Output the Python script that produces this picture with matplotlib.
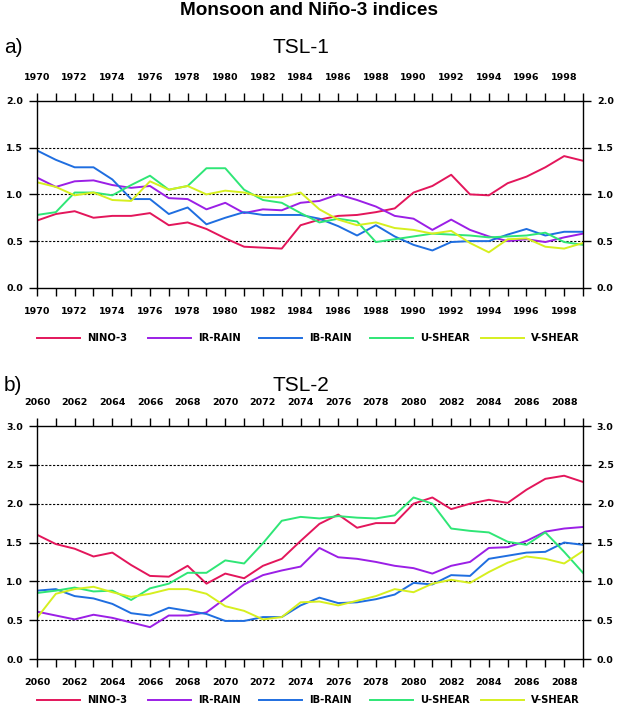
import matplotlib
matplotlib.use("Agg")
import matplotlib.pyplot as plt
from matplotlib.lines import Line2D
from matplotlib.ticker import MultipleLocator

# series names and colours
names = ["NINO-3", "IR-RAIN", "IB-RAIN", "U-SHEAR", "V-SHEAR"]
colors = ["#e3165b", "#9b1fe6", "#1f6ee0", "#2fe676", "#d6ef1f"]

# TSL-1 (1970-1999)
years1 = list(range(1970, 2000))
nino1 = [0.72, 0.79, 0.82, 0.75, 0.77, 0.77, 0.80, 0.67, 0.70, 0.63,
         0.53, 0.44, 0.43, 0.42, 0.67, 0.73, 0.77, 0.78, 0.81, 0.85,
         1.02, 1.09, 1.21, 1.00, 0.99, 1.12, 1.19, 1.29, 1.41, 1.36]
irrain1 = [1.18, 1.08, 1.14, 1.15, 1.10, 1.07, 1.09, 0.96, 0.95, 0.84,
           0.91, 0.80, 0.84, 0.83, 0.91, 0.93, 1.00, 0.94, 0.87, 0.77,
           0.74, 0.62, 0.73, 0.62, 0.55, 0.50, 0.52, 0.49, 0.54, 0.58]
ibrain1 = [1.47, 1.37, 1.29, 1.29, 1.16, 0.95, 0.95, 0.79, 0.86, 0.68,
           0.75, 0.81, 0.78, 0.78, 0.78, 0.74, 0.66, 0.56, 0.67, 0.55,
           0.46, 0.40, 0.49, 0.50, 0.50, 0.57, 0.63, 0.56, 0.60, 0.60]
ushear1 = [0.78, 0.81, 1.02, 1.02, 0.99, 1.10, 1.20, 1.05, 1.09, 1.28,
           1.28, 1.05, 0.94, 0.91, 0.80, 0.70, 0.74, 0.71, 0.49, 0.52,
           0.55, 0.58, 0.57, 0.56, 0.54, 0.55, 0.56, 0.59, 0.49, 0.46]
vshear1 = [1.13, 1.08, 0.99, 1.02, 0.94, 0.93, 1.14, 1.05, 1.09, 1.00,
           1.04, 1.02, 0.97, 0.97, 1.02, 0.84, 0.73, 0.67, 0.70, 0.64,
           0.62, 0.58, 0.61, 0.48, 0.38, 0.52, 0.53, 0.44, 0.42, 0.48]

# TSL-2 (2060-2089)
years2 = list(range(2060, 2090))
nino2 = [1.60, 1.48, 1.42, 1.32, 1.37, 1.21, 1.07, 1.06, 1.20, 0.97,
         1.10, 1.04, 1.20, 1.29, 1.52, 1.74, 1.86, 1.69, 1.75, 1.75,
         2.00, 2.08, 1.93, 2.00, 2.05, 2.01, 2.18, 2.32, 2.36, 2.28]
irrain2 = [0.61, 0.56, 0.51, 0.57, 0.53, 0.47, 0.41, 0.56, 0.56, 0.60,
           0.78, 0.96, 1.08, 1.14, 1.19, 1.43, 1.31, 1.29, 1.25, 1.20,
           1.17, 1.10, 1.20, 1.25, 1.43, 1.44, 1.52, 1.64, 1.68, 1.70]
ibrain2 = [0.88, 0.90, 0.81, 0.78, 0.71, 0.59, 0.56, 0.66, 0.62, 0.58,
           0.49, 0.49, 0.54, 0.54, 0.69, 0.79, 0.72, 0.73, 0.77, 0.83,
           0.98, 0.96, 1.08, 1.07, 1.29, 1.33, 1.37, 1.38, 1.50, 1.47]
ushear2 = [0.85, 0.88, 0.92, 0.87, 0.88, 0.76, 0.91, 0.97, 1.11, 1.11,
           1.27, 1.23, 1.49, 1.78, 1.83, 1.81, 1.84, 1.82, 1.81, 1.85,
           2.08, 2.00, 1.68, 1.65, 1.63, 1.51, 1.47, 1.63, 1.38, 1.11]
vshear2 = [0.53, 0.84, 0.90, 0.93, 0.86, 0.80, 0.84, 0.90, 0.90, 0.84,
           0.68, 0.62, 0.51, 0.54, 0.73, 0.74, 0.69, 0.75, 0.81, 0.90,
           0.86, 0.97, 1.02, 0.98, 1.12, 1.24, 1.32, 1.29, 1.23, 1.39]

panels = [
    ("a)", "TSL-1", years1, [nino1, irrain1, ibrain1, ushear1, vshear1], 2.0),
    ("b)", "TSL-2", years2, [nino2, irrain2, ibrain2, ushear2, vshear2], 3.0),
]

tick_font = dict(family="DejaVu Sans", size=6.8, weight="bold")
W, H = 619, 716

fig = plt.figure(figsize=(6.19, 7.16), dpi=100)
fig.text(0.5, 0.985, "Monsoon and Niño-3 indices", ha="center", va="center",
         fontsize=13.7, fontweight="bold", family="Liberation Sans")

boxes = [[0.0598, 0.598, 0.882, 0.261], [0.0598, 0.0796, 0.882, 0.3254]]
label_y = [0.934, 0.462]
legend_y = [0.528, 0.022]

for (letter, title, years, series, ymax), box, ly, gy in zip(panels, boxes, label_y, legend_y):
    ax = fig.add_axes(box)
    for vals, name, c in zip(series, names, colors):
        ax.plot(years, vals, color=c, lw=1.4, label=name)

    ax.set_xlim(years[0], years[-1])
    ax.set_ylim(0, ymax)
    for g in [v * 0.5 for v in range(1, int(ymax * 2))]:
        ax.axhline(g, color="black", lw=0.8, ls=(0, (2, 1.5)), zorder=0)

    ax.xaxis.set_minor_locator(MultipleLocator(1))
    ax.yaxis.set_major_locator(MultipleLocator(0.5))
    ax.yaxis.set_major_formatter(plt.FuncFormatter(lambda v, p: f"{v:.1f}"))
    ax.tick_params(axis="both", which="both", direction="out", width=1,
                   top=True, right=True, labeltop=True, labelright=True)
    ax.tick_params(axis="x", which="both", length=6, pad=8)
    ax.tick_params(axis="y", length=6, pad=4)
    ax.set_xticks(years[::2])
    ax.set_xticklabels([str(y) for y in years[::2]], fontdict=tick_font)
    for lab in ax.get_yticklabels():
        lab.set_fontproperties(tick_font)
    for s in ax.spines.values():
        s.set_linewidth(1)

    fig.text(0.006, ly, letter, fontsize=15, family="Liberation Sans", va="center")
    fig.text(0.486, ly, title, fontsize=15, family="Liberation Sans", ha="center", va="center")

    # legend with fixed item spacing
    for i, (name, c) in enumerate(zip(names, colors)):
        x0 = 37 + i * 111
        fig.add_artist(Line2D([x0 / W, (x0 + 43) / W], [gy, gy], color=c, lw=1.4))
        fig.text((x0 + 50) / W, gy, name, va="center", ha="left",
                 family="DejaVu Sans", size=7.2, weight="bold")

fig.savefig("out.png", dpi=100)
